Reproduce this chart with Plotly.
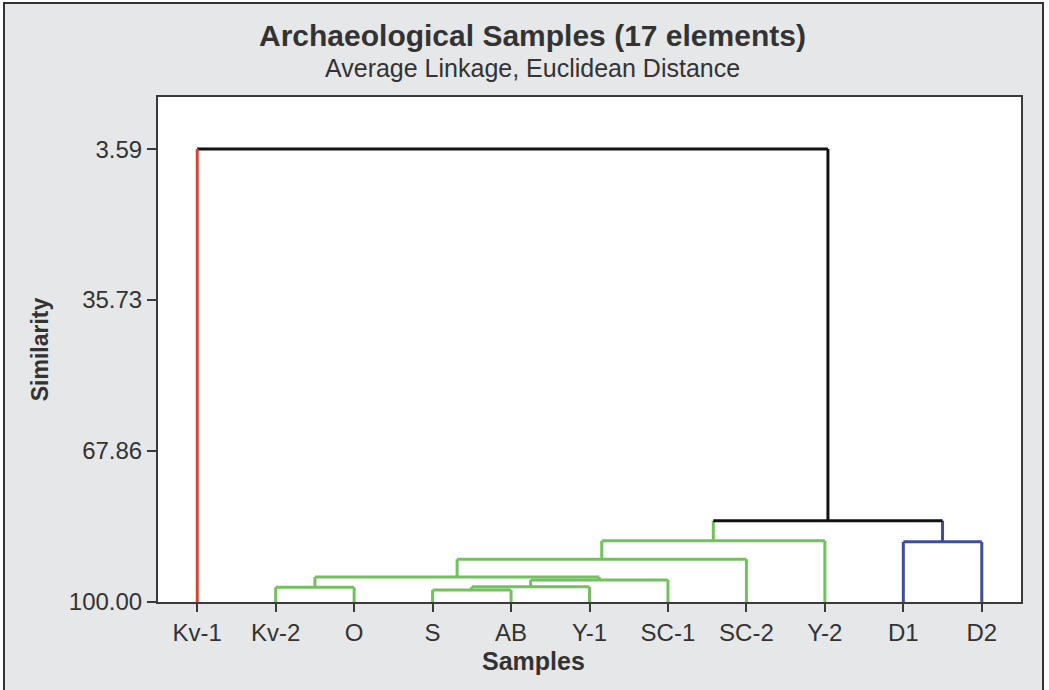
import plotly.graph_objects as go

# ---- data ----
samples = ["Kv-1", "Kv-2", "O", "S", "AB", "Y-1", "SC-1", "SC-2", "Y-2", "D1", "D2"]
leaf_colors = ["#e0402e"] + ["#72c15e"] * 8 + ["#3c4da0"] * 2
# merges: (left node, right node, similarity level, colour); leaves are 0..10, merges 11..
merge_left = [3, 11, 1, 12, 13, 15, 16, 9, 17, 0]
merge_right = [4, 5, 2, 6, 14, 7, 8, 10, 18, 19]
merge_level = [97.45, 96.75, 96.87, 95.30, 94.70, 90.90, 86.96, 87.20, 82.70, 3.59]
merge_color = ["#72c15e"] * 7 + ["#3c4da0", "#111111", "#111111"]
ytick_vals = [3.59, 35.73, 67.86, 100.00]
ytick_text = ["3.59", "35.73", "67.86", "100.00"]

# ---- build dendrogram segments ----
n = len(samples)
node_x = list(range(n))
node_y = [100.0] * n
node_col = list(leaf_colors)
segs = {}
def add(col, xs, ys):
    d = segs.setdefault(col, ([], []))
    d[0].extend(xs + [None])
    d[1].extend(ys + [None])

for a, b, h, c in zip(merge_left, merge_right, merge_level, merge_color):
    xa, ya, xb, yb = node_x[a], node_y[a], node_x[b], node_y[b]
    add(node_col[a], [xa, xa], [ya, h])
    add(node_col[b], [xb, xb], [yb, h])
    add(c, [xa, xb], [h, h])
    node_x.append((xa + xb) / 2)
    node_y.append(h)
    node_col.append(c)

fig = go.Figure()
for col, (xs, ys) in segs.items():
    fig.add_trace(go.Scatter(x=xs, y=ys, mode="lines",
                             line=dict(color=col, width=3),
                             hoverinfo="skip", showlegend=False))

FONT = "Liberation Sans, Arial, sans-serif"
W, H = 1049, 690
# screen positions of plot area
SL, SR, ST, SB = 158, 1021, 97, 602
L, T = SL, ST
R, B = W - SR, H - SB
pw, ph = W - L - R, H - T - B

def px(x):
    return (x - L) / pw
def py(y):
    return (H - B - y) / ph

def strip(x0, x1, y0, y1):
    return dict(type="rect", xref="paper", yref="paper",
                x0=px(x0), x1=px(x1), y0=py(y1), y1=py(y0),
                fillcolor="#ffffff", line=dict(width=0), layer="below")

fig.update_layout(
    width=W, height=H,
    margin=dict(l=L, r=R, t=T, b=B),
    paper_bgcolor="#e6e7e9",
    plot_bgcolor="#ffffff",
    font=dict(family=FONT, color="#333333", size=24),
    xaxis=dict(range=[-0.5, 10.5], tickmode="array",
               tickvals=list(range(n)), ticktext=samples,
               showgrid=False, zeroline=False,
               showline=True, mirror=True, linecolor="#3a3a3a", linewidth=2,
               ticks="outside", ticklen=8, tickwidth=2, tickcolor="#3a3a3a",
               tickfont=dict(size=24, color="#333333")),
    yaxis=dict(range=[100, -7.5], tickmode="array",
               tickvals=ytick_vals, ticktext=ytick_text,
               showgrid=False, zeroline=False,
               showline=True, mirror=True, linecolor="#3a3a3a", linewidth=2,
               ticks="outside", ticklen=9, tickwidth=2, tickcolor="#3a3a3a",
               tickfont=dict(size=24, color="#333333"),
               title=dict(text="<b>Similarity</b>", font=dict(size=23, color="#333333"),
                          standoff=14)),
    shapes=[
        strip(0, 4, 0, 700),
        strip(0, 1049, 0, 3),
        strip(1043, 1049, 0, 700),
        dict(type="rect", xref="paper", yref="paper",
             x0=px(4), x1=px(1043), y0=py(730), y1=py(3),
             line=dict(color="#333333", width=2), layer="below"),
    ],
    annotations=[
        dict(text="<b>Archaeological Samples (17 elements)</b>", xref="paper", yref="paper",
             x=px(532), y=py(36), xanchor="center", yanchor="middle", showarrow=False,
             font=dict(size=30, color="#333333")),
        dict(text="Average Linkage, Euclidean Distance", xref="paper", yref="paper",
             x=px(532), y=py(68), xanchor="center", yanchor="middle", showarrow=False,
             font=dict(size=25, color="#333333")),
        dict(text="<b>Samples</b>", xref="paper", yref="paper",
             x=px(533), y=py(661), xanchor="center", yanchor="middle", showarrow=False,
             font=dict(size=25, color="#333333")),
    ],
)

fig.write_html("out.html", config={"displayModeBar": False},
               post_script="document.body.style.margin='0';")
